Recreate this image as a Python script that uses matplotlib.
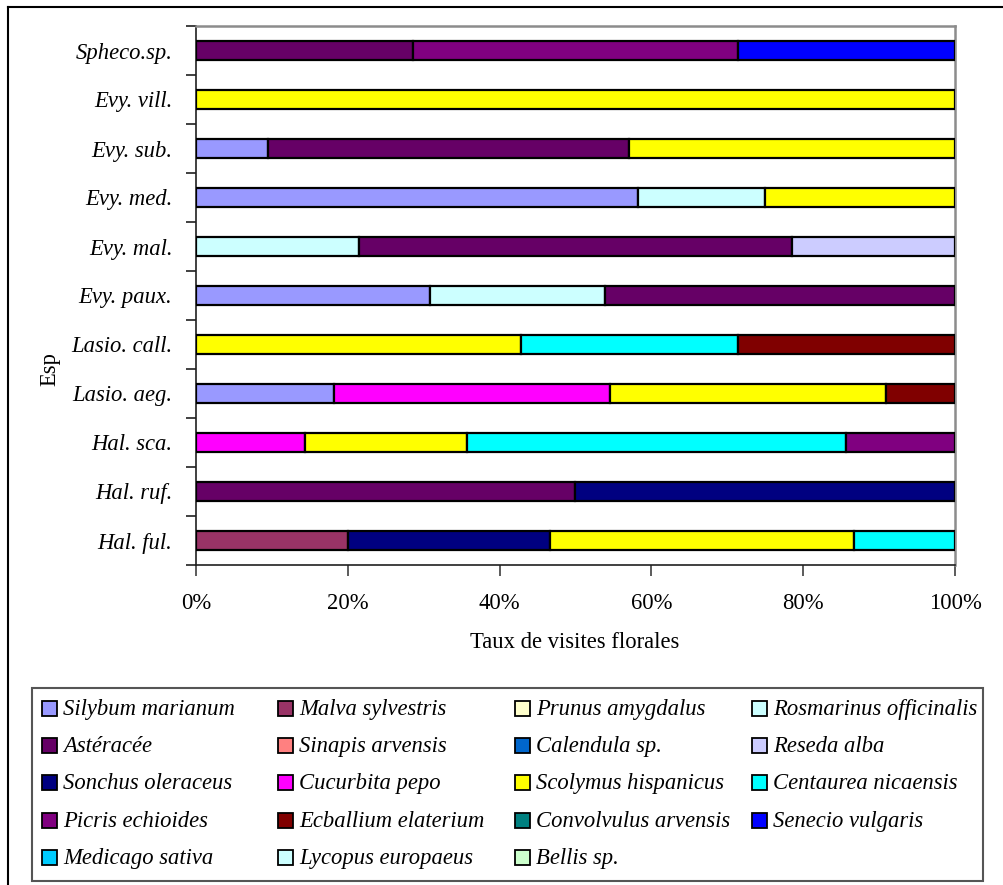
import numpy as np
import matplotlib
matplotlib.use("Agg")
import matplotlib.pyplot as plt
from matplotlib.patches import Rectangle
from matplotlib.lines import Line2D
from matplotlib.ticker import FixedLocator, PercentFormatter

plt.rcParams['font.family'] = ['Liberation Serif', 'DejaVu Serif']

# Bee taxa, listed from the bottom bar to the top bar
bees = ["Hal. ful.", "Hal. ruf.", "Hal. sca.", "Lasio. aeg.", "Lasio. call.",
        "Evy. paux.", "Evy. mal.", "Evy. med.", "Evy. sub.", "Evy. vill.",
        "Spheco.sp."]

# Share of floral visits (%) per plant species, same order as `bees`
silybum_marianum = [0, 0, 0, 18.2, 0, 30.8, 0, 58.3, 9.5, 0, 0]
malva_sylvestris = [20.0, 0, 0, 0, 0, 0, 0, 0, 0, 0, 0]
prunus_amygdalus = [0, 0, 0, 0, 0, 0, 0, 0, 0, 0, 0]
rosmarinus_officinalis = [0, 0, 0, 0, 0, 23.1, 21.4, 16.7, 0, 0, 0]
asteracee = [0, 50.0, 0, 0, 0, 46.2, 57.1, 0, 47.6, 0, 28.6]
sinapis_arvensis = [0, 0, 0, 0, 0, 0, 0, 0, 0, 0, 0]
calendula_sp = [0, 0, 0, 0, 0, 0, 0, 0, 0, 0, 0]
reseda_alba = [0, 0, 0, 0, 0, 0, 21.4, 0, 0, 0, 0]
sonchus_oleraceus = [26.7, 50.0, 0, 0, 0, 0, 0, 0, 0, 0, 0]
cucurbita_pepo = [0, 0, 14.3, 36.4, 0, 0, 0, 0, 0, 0, 0]
scolymus_hispanicus = [40.0, 0, 21.4, 36.4, 42.9, 0, 0, 25.0, 42.9, 100.0, 0]
centaurea_nicaensis = [13.3, 0, 50.0, 0, 28.6, 0, 0, 0, 0, 0, 0]
picris_echioides = [0, 0, 14.3, 0, 0, 0, 0, 0, 0, 0, 42.9]
ecballium_elaterium = [0, 0, 0, 9.1, 28.6, 0, 0, 0, 0, 0, 0]
convolvulus_arvensis = [0, 0, 0, 0, 0, 0, 0, 0, 0, 0, 0]
senecio_vulgaris = [0, 0, 0, 0, 0, 0, 0, 0, 0, 0, 28.6]
medicago_sativa = [0, 0, 0, 0, 0, 0, 0, 0, 0, 0, 0]
lycopus_europaeus = [0, 0, 0, 0, 0, 0, 0, 0, 0, 0, 0]
bellis_sp = [0, 0, 0, 0, 0, 0, 0, 0, 0, 0, 0]

plants = ["Silybum marianum", "Malva sylvestris", "Prunus amygdalus",
          "Rosmarinus officinalis", "Astéracée", "Sinapis arvensis",
          "Calendula sp.", "Reseda alba", "Sonchus oleraceus", "Cucurbita pepo",
          "Scolymus hispanicus", "Centaurea nicaensis", "Picris echioides",
          "Ecballium elaterium", "Convolvulus arvensis", "Senecio vulgaris",
          "Medicago sativa", "Lycopus europaeus", "Bellis sp."]

colors = ["#9999FF", "#993366", "#FFFFCC", "#CCFFFF", "#660066", "#FF8080",
          "#0066CC", "#CCCCFF", "#000080", "#FF00FF", "#FFFF00", "#00FFFF",
          "#800080", "#800000", "#008080", "#0000FF", "#00CCFF", "#CCFFFF",
          "#CCFFCC"]

series = [silybum_marianum, malva_sylvestris, prunus_amygdalus,
          rosmarinus_officinalis, asteracee, sinapis_arvensis, calendula_sp,
          reseda_alba, sonchus_oleraceus, cucurbita_pepo, scolymus_hispanicus,
          centaurea_nicaensis, picris_echioides, ecballium_elaterium,
          convolvulus_arvensis, senecio_vulgaris, medicago_sativa,
          lycopus_europaeus, bellis_sp]

FS = 16.3

W, H = 1004, 885
fig = plt.figure(figsize=(W / 100, H / 100), dpi=100)
fig.patch.set_facecolor("white")


def fx(px):
    return px / W


def fy(py):
    return 1 - py / H


# Plot area
ax_l, ax_r, ax_t, ax_b = 196, 955, 26, 565
ax = fig.add_axes([fx(ax_l), fy(ax_b), fx(ax_r - ax_l), (ax_b - ax_t) / H])

data = np.array(series, dtype=float)
share = data / data.sum(axis=0)  # 100 % stacked
y = np.arange(len(bees))
left = np.zeros(len(bees))
for vals, col in zip(share, colors):
    m = vals > 0
    if m.any():
        ax.barh(y[m], vals[m], left=left[m], height=0.4, color=col,
                edgecolor="black", linewidth=1.6, zorder=3)
    left += vals

ax.set_xlim(0, 1)
ax.set_ylim(-0.5, len(bees) - 0.5)

# x axis
ax.xaxis.set_major_locator(FixedLocator(np.linspace(0, 1, 6)))
ax.xaxis.set_major_formatter(PercentFormatter(1.0, decimals=0))
ax.tick_params(axis="x", direction="out", length=8, width=1.2, color="#404040",
               labelsize=FS, pad=12)

# y axis: tick marks on category boundaries, labels on category centres
ax.yaxis.set_major_locator(FixedLocator(np.arange(-0.5, len(bees), 1.0)))
ax.yaxis.set_minor_locator(FixedLocator(y))
ax.set_yticklabels([])
ax.set_yticks(y, labels=bees, minor=True)
ax.tick_params(axis="y", which="major", direction="out", length=7, width=1.2,
               color="#202020")
ax.tick_params(axis="y", which="minor", length=0, labelsize=FS, pad=17)
for t in ax.get_yticklabels(minor=True):
    t.set_fontstyle("italic")

for side in ("left", "bottom"):
    ax.spines[side].set_color("#202020")
    ax.spines[side].set_linewidth(1.2)
for side in ("top", "right"):
    ax.spines[side].set_color("#8c8c8c")
    ax.spines[side].set_linewidth(1.8)

ax.set_xlabel("Taux de visites florales", fontsize=FS)
ax.xaxis.set_label_coords((575 - ax_l) / (ax_r - ax_l), (ax_b - 643) / (ax_b - ax_t))
ax.xaxis.label.set_va("center")
ax.set_ylabel("Esp", fontsize=FS)
ax.yaxis.set_label_coords((50 - ax_l) / (ax_r - ax_l), (ax_b - 369) / (ax_b - ax_t))
ax.yaxis.label.set_va("center")

# Chart frame (top and left edges)
fig.add_artist(Line2D([fx(8), fx(W)], [fy(7), fy(7)], color="black", lw=1.5))
fig.add_artist(Line2D([fx(8), fx(8)], [fy(7), fy(H)], color="black", lw=1.5))

# Legend box, entries laid out row by row in four columns
fig.add_artist(Rectangle((fx(32), fy(881)), fx(983 - 32), (881 - 688) / H,
                         transform=fig.transFigure, facecolor="white",
                         edgecolor="#555555", lw=1.5))
col_x = [42, 278, 515, 752]
row_y = [708, 745, 782, 820, 857]
msz = 15
for i, (name, col) in enumerate(zip(plants, colors)):
    r, c = divmod(i, 4)
    mx, my = col_x[c], row_y[r]
    fig.add_artist(Rectangle((fx(mx), fy(my + msz / 2)), fx(msz), msz / H,
                             transform=fig.transFigure, facecolor=col,
                             edgecolor="black", lw=1.3))
    fig.text(fx(mx + msz + 6), fy(my + msz / 2 - 0.5), name, fontsize=FS,
             fontstyle="italic", ha="left", va="baseline")

fig.savefig("out.png", dpi=100)
